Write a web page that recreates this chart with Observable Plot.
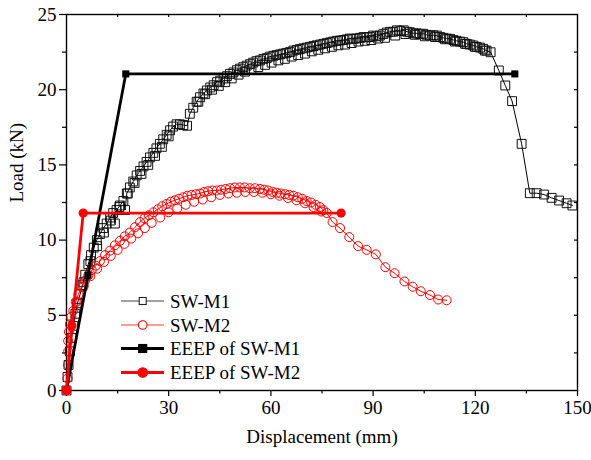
<!DOCTYPE html>
<html>
<head>
<meta charset="utf-8">
<script src="https://cdn.jsdelivr.net/npm/d3@7"></script>
<script src="https://cdn.jsdelivr.net/npm/@observablehq/plot@0.6"></script>
<style>
  body { margin: 0; background: #fff; }
  #wrap { position: relative; width: 591px; height: 460px; }
  #wrap svg { position: absolute; left: 0; top: 0; }
  #wrap svg, #wrap svg text { font-family: "Liberation Serif", "DejaVu Serif", "Times New Roman", Times, serif !important; }
</style>
</head>
<body>
<div id="wrap"></div>
<script>
// SW-M1 test curve (displacement mm, load kN) - main pass
const m1Disp = [0,0.3,0.6,1.0,1.5,2.0,2.6,3.2,4.0,4.7,5.5,6.4,7.2,8.0,8.9,9.8,10.8,11.8,12.8,13.7,14.2,14.7,15.7,16.7,17.2,17.7,18.6,19.6,20.6,21.6,22.6,23.5,24.5,25.5,26.4,27.4,28.4,29.4,30.4,31.3,32.3,33.3,34.3,35.4,36.2,37.2,38.2,39.2,40.2,41.2,42.2,43.2,44.2,45.1,46.1,47.1,48.0,49.0,50.0,50.9,51.9,52.9,53.9,54.8,55.8,56.8,57.8,58.8,59.7,60.7,61.7,62.7,63.6,64.6,65.6,66.6,67.6,68.5,69.5,70.5,71.5,72.5,73.4,74.4,75.4,76.4,77.4,78.3,79.3,80.3,81.3,82.3,83.2,84.2,85.2,86.2,87.2,88.1,89.1,90.0,91.0,92.0,93.0,94.0,95.0,95.9,97.0,98.0,99.0,100.0,100.8,101.8,102.8,103.7,104.7,105.7,106.7,107.7,108.7,109.7,110.6,111.6,112.6,113.6,114.5,115.5,116.5,117.5,118.4,119.4,120.4,121.4,122.3,123.3,124.5,126.9,128.8,130.8,133.6,136.0,138.0,140.2,142.4,144.6,146.8,148.5];
const m1Load = [0,0.9,1.7,2.6,3.5,4.3,5.1,5.8,6.4,7.0,7.7,8.4,9.0,9.5,10.0,10.4,10.8,11.1,11.5,11.8,11.1,12.0,12.3,12.6,12.0,13.1,13.5,13.9,14.3,14.6,14.9,15.2,15.5,15.8,16.1,16.4,16.7,17.0,17.3,17.55,17.7,17.7,17.65,17.6,18.4,18.8,19.2,19.5,19.75,19.95,20.15,20.3,20.5,20.6,20.75,20.9,21.05,21.15,21.3,21.4,21.5,21.6,21.7,21.8,21.9,21.95,22.05,22.1,22.2,22.25,22.3,22.35,22.4,22.45,22.5,22.6,22.65,22.7,22.75,22.8,22.85,22.9,22.95,23.0,23.05,23.1,23.15,23.2,23.25,23.27,23.3,23.35,23.4,23.38,23.4,23.45,23.5,23.48,23.5,23.6,23.55,23.6,23.7,23.8,23.85,23.85,23.95,23.9,23.95,23.85,23.82,23.75,23.75,23.7,23.72,23.65,23.6,23.62,23.6,23.5,23.45,23.4,23.38,23.3,23.25,23.2,23.16,23.05,23.0,22.94,22.85,22.8,22.72,22.6,22.49,21.28,20.28,19.24,16.40,13.12,13.12,13.03,12.81,12.63,12.45,12.30];
// SW-M1 second pass (lower edge of the dense band)
const m1DispB = [3,5,7,9,11,13,15.5,18,20,22,24,26,28,30,38.7,40.7,42.7,44.7,46.6,48.5,50.5,52.4,54.3,56.3,58.3,60.2,62.2,64.1,66.1,68.0,70.0,72.0,73.9,75.9,77.9,79.8,81.8,83.7,85.7,87.6,89.5,91.5,93.5,96.5,99.5,102.3,105.2,108.2,111.1,114.0,117.0,119.9,122.8];
const m1LoadB = [5.5,7.2,8.6,9.6,10.5,11.3,12.2,13.1,13.8,14.4,15.0,15.6,16.2,16.9,19.2,19.7,20.0,20.25,20.5,20.75,21.0,21.2,21.35,21.5,21.65,21.8,21.95,22.05,22.2,22.3,22.4,22.55,22.65,22.75,22.85,22.95,23.0,23.1,23.2,23.25,23.3,23.4,23.45,23.6,23.7,23.65,23.55,23.5,23.35,23.2,23.05,22.85,22.6];

// SW-M2 test curve - main pass
const m2Disp = [0,0.3,0.4,0.5,0.5,0.7,1.0,1.4,2.0,2.7,3.5,4.4,5.4,6.4,7.4,8.6,9.8,11.3,12.8,14.2,15.7,17.1,18.6,20.1,21.6,22.9,24.2,25.5,26.8,28.1,29.4,30.6,31.8,33.0,34.3,35.5,36.7,38.0,39.2,40.4,41.6,42.8,44.1,45.4,46.7,48.0,49.4,50.9,52.3,53.8,55.3,56.8,58.0,59.2,60.5,61.7,62.9,64.2,65.4,66.6,67.9,69.2,70.5,71.8,73.1,74.4,75.4,76.4,78.1,80.3,83.0,85.6,88.1,90.8,93.6,96.3,99.2,101.6,104.0,106.7,109.1,111.6];
const m2Load = [0,0.8,1.7,2.6,3.3,3.9,4.4,4.9,5.3,5.9,6.4,6.9,7.3,7.65,8.0,8.3,8.6,9.0,9.3,9.65,9.95,10.25,10.5,10.85,11.2,11.45,11.65,11.85,12.05,12.25,12.4,12.55,12.65,12.75,12.85,12.95,13.0,13.05,13.1,13.2,13.25,13.3,13.3,13.35,13.4,13.45,13.5,13.5,13.5,13.45,13.45,13.4,13.35,13.3,13.2,13.15,13.1,13.05,13.0,12.95,12.85,12.75,12.6,12.5,12.35,12.2,12.0,11.8,11.2,10.8,10.2,9.6,9.35,9.05,8.2,7.8,7.25,6.9,6.6,6.35,6.05,6.0];
// SW-M2 second pass
const m2DispB = [3,5,7,9,11,13,15,17,19,21,23,25,27.5,30,32.5,35,37.5,40,42.5,45,47.5,50,52.5,55,57.5,60,62.5,65,67.5,70,72.5,74.8];
const m2LoadB = [5.9,6.9,7.6,8.1,8.55,8.95,9.35,9.75,10.1,10.45,10.8,11.15,11.5,11.85,12.1,12.35,12.55,12.7,12.85,13.0,13.1,13.15,13.2,13.2,13.15,13.05,12.95,12.8,12.65,12.45,12.2,11.9];

// EEEP bilinear curves
const e1Disp = [0, 6.3, 17.4, 131.6];
const e1Load = [0, 7.66, 21.05, 21.05];
const e2Disp = [0, 1.6, 4.9, 80.6];
const e2Load = [0, 4.3, 11.8, 11.8];

const xMajor = [0, 30, 60, 90, 120, 150];
const xMinor = [15, 45, 75, 105, 135];
const yMajor = [0, 5, 10, 15, 20, 25];
const yMinor = [2.5, 7.5, 12.5, 17.5, 22.5];
const legendLabels = ["SW-M1", "SW-M2", "EEEP of SW-M1", "EEEP of SW-M2"];

const toRows = (xs, ys) => xs.map((x, i) => ({x, y: ys[i]}));
const m1 = toRows(m1Disp, m1Load);
const m1b = toRows(m1DispB, m1LoadB);
const m2 = toRows(m2Disp, m2Load);
const m2b = toRows(m2DispB, m2LoadB);
const e1 = toRows(e1Disp, e1Load);
const e2 = toRows(e2Disp, e2Load);

const W = 591, H = 460, ML = 66, MR = 14, MT = 14, MB = 70;
const font = "Liberation Serif, DejaVu Serif, Times New Roman, serif";

const chart = Plot.plot({
  width: W, height: H,
  marginLeft: ML, marginRight: MR, marginTop: MT, marginBottom: MB,
  style: {fontFamily: font, fontSize: "19px", color: "black", background: "white"},
  x: {domain: [0, 150]},
  y: {domain: [0, 25]},
  marks: [
    Plot.axisX({ticks: xMajor, tickSize: 6, tickPadding: 4, label: null, fontSize: 19, strokeWidth: 1.2}),
    Plot.axisX({ticks: xMinor, tickSize: 3.5, tickFormat: () => "", label: null, strokeWidth: 1.2}),
    Plot.axisY({ticks: yMajor, tickSize: 7, tickPadding: 3, label: null, fontSize: 19, strokeWidth: 1.2}),
    Plot.axisY({ticks: yMinor, tickSize: 4, tickFormat: () => "", label: null, strokeWidth: 1.2}),
    Plot.tickX(xMinor.concat(xMajor.slice(1, -1)), {x: d => d, insetBottom: H - MT - MB - 3, strokeWidth: 1.2}),
    Plot.tickY(yMinor.concat(yMajor.slice(1, -1)), {y: d => d, insetLeft: W - ML - MR - 3, strokeWidth: 1.2}),
    Plot.frame({stroke: "black", strokeWidth: 1.4}),
    Plot.text(["Displacement (mm)"], {frameAnchor: "bottom", dy: 52, fontSize: 19}),
    Plot.text(["Load (kN)"], {frameAnchor: "left", dx: -50, rotate: -90, fontSize: 19}),
    Plot.line(m1, {x: "x", y: "y", stroke: "black", strokeWidth: 1}),
    Plot.dot(m1b, {x: "x", y: "y", symbol: "square", r: 5, stroke: "#111", strokeWidth: 1, fill: "none"}),
    Plot.dot(m1, {x: "x", y: "y", symbol: "square", r: 5, stroke: "#111", strokeWidth: 1, fill: "none"}),
    Plot.line(m2, {x: "x", y: "y", stroke: "red", strokeWidth: 1}),
    Plot.dot(m2b, {x: "x", y: "y", symbol: "circle", r: 4.5, stroke: "red", strokeWidth: 1, fill: "none"}),
    Plot.dot(m2, {x: "x", y: "y", symbol: "circle", r: 4.5, stroke: "red", strokeWidth: 1, fill: "none"}),
    Plot.line(e1, {x: "x", y: "y", stroke: "black", strokeWidth: 2.8}),
    Plot.dot(e1, {x: "x", y: "y", symbol: "square", r: 4, fill: "black"}),
    Plot.line(e2, {x: "x", y: "y", stroke: "red", strokeWidth: 2.8}),
    Plot.dot(e2, {x: "x", y: "y", symbol: "circle", r: 4.6, fill: "red"})
  ]
});

const wrap = document.getElementById("wrap");
wrap.appendChild(chart);

// Legend overlay
const ns = "http://www.w3.org/2000/svg";
const leg = document.createElementNS(ns, "svg");
leg.setAttribute("width", W);
leg.setAttribute("height", H);
leg.style.pointerEvents = "none";
const styles = [
  {stroke: "#444", sw: 1.2, shape: "square", fill: "white", mstroke: "#222", size: 7},
  {stroke: "#ff3b3b", sw: 1.2, shape: "circle", fill: "white", mstroke: "red", size: 4.3},
  {stroke: "black", sw: 3, shape: "square", fill: "black", mstroke: "black", size: 8},
  {stroke: "red", sw: 3, shape: "circle", fill: "red", mstroke: "red", size: 4.8}
];
const rowY = [301, 325, 348.5, 372.5];
legendLabels.forEach((lab, i) => {
  const s = styles[i], y = rowY[i];
  const ln = document.createElementNS(ns, "line");
  ln.setAttribute("x1", 121); ln.setAttribute("x2", 164);
  ln.setAttribute("y1", y); ln.setAttribute("y2", y);
  ln.setAttribute("stroke", s.stroke); ln.setAttribute("stroke-width", s.sw);
  leg.appendChild(ln);
  let m;
  if (s.shape === "square") {
    m = document.createElementNS(ns, "rect");
    m.setAttribute("x", 142.7 - s.size / 2); m.setAttribute("y", y - s.size / 2);
    m.setAttribute("width", s.size); m.setAttribute("height", s.size);
  } else {
    m = document.createElementNS(ns, "circle");
    m.setAttribute("cx", 142.7); m.setAttribute("cy", y); m.setAttribute("r", s.size);
  }
  m.setAttribute("fill", s.fill); m.setAttribute("stroke", s.mstroke); m.setAttribute("stroke-width", 1.1);
  leg.appendChild(m);
  const t = document.createElementNS(ns, "text");
  t.setAttribute("x", 170); t.setAttribute("y", y);
  t.setAttribute("dy", "0.35em");
  t.setAttribute("font-size", "19px");
  t.setAttribute("fill", "black");
  t.textContent = lab;
  leg.appendChild(t);
});
wrap.appendChild(leg);
</script>
</body>
</html>
